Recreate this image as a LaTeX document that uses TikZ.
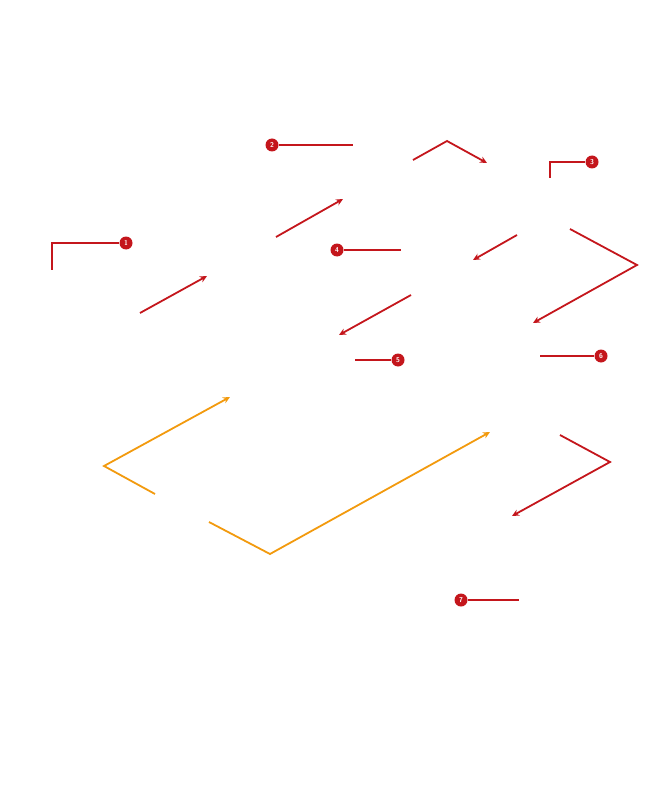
\documentclass[tikz,border=0pt]{standalone}
\usetikzlibrary{arrows.meta}
\definecolor{callred}{HTML}{C4161C}
\definecolor{flowamber}{HTML}{F29A0E}
\begin{document}
\begin{tikzpicture}[x = 1pt, y = -1pt, line width = 1.8pt]
    \tikzstyle{marker}=[circle, fill = callred, text = white, minimum size=13pt, inner sep=0pt, font=\sffamily\bfseries\fontsize{7}{7}\selectfont]
    \tikzstyle{leader}=[draw = callred]
    \tikzstyle{flow}=[draw = callred, -{Stealth[length=7pt, width=6.5pt]}]
    \tikzstyle{flowamber}=[flow, draw = flowamber]
    \useasboundingbox (0,0) rectangle (647,802);
    
    \foreach \name/\x/\y in {1/126/243, 2/272/145, 3/592/162, 4/337/250, 5/398/360, 6/601/356, 7/461/600}
    \node[marker] (M-\name) at (\x,\y) {\name};
    
    % leader ends
    \foreach \name/\x/\y in {1a/52/243, 1b/52/270, 2/353/145, 3a/550/162, 3b/550/178, 4/401/250, 5/355/360, 6/540/356, 7/519/600}
    \coordinate (L-\name) at (\x,\y);
    
    \draw[leader] (M-1) -- (L-1a) -- (L-1b);
    \draw[leader] (M-3) -- (L-3a) -- (L-3b);
    \foreach \name in {2, 4, 5, 6, 7}
    \draw[leader] (M-\name) -- (L-\name);
    
    % flow points
    \foreach \name/\x/\y in {a1/140/313, a2/207/276, b1/276/237, b2/343/199,
        c1/413/160, c2/447/141, c3/487/163, d1/517/235, d2/473/260,
        e1/570/229, e2/637/265, e3/533/323, f1/411/295, f2/339/335,
        g1/560/435, g2/610/462, g3/512/516,
        h1/155/494, h2/104/466, h3/230/397, i1/209/522, i2/270/554, i3/490/432}
    \coordinate (F-\name) at (\x,\y);
    
    \draw[flow] (F-a1) -- (F-a2);
    \draw[flow] (F-b1) -- (F-b2);
    \draw[flow] (F-c1) -- (F-c2) -- (F-c3);
    \draw[flow] (F-d1) -- (F-d2);
    \draw[flow] (F-e1) -- (F-e2) -- (F-e3);
    \draw[flow] (F-f1) -- (F-f2);
    \draw[flow] (F-g1) -- (F-g2) -- (F-g3);
    \draw[flowamber] (F-h1) -- (F-h2) -- (F-h3);
    \draw[flowamber] (F-i1) -- (F-i2) -- (F-i3);
\end{tikzpicture}
\end{document}
